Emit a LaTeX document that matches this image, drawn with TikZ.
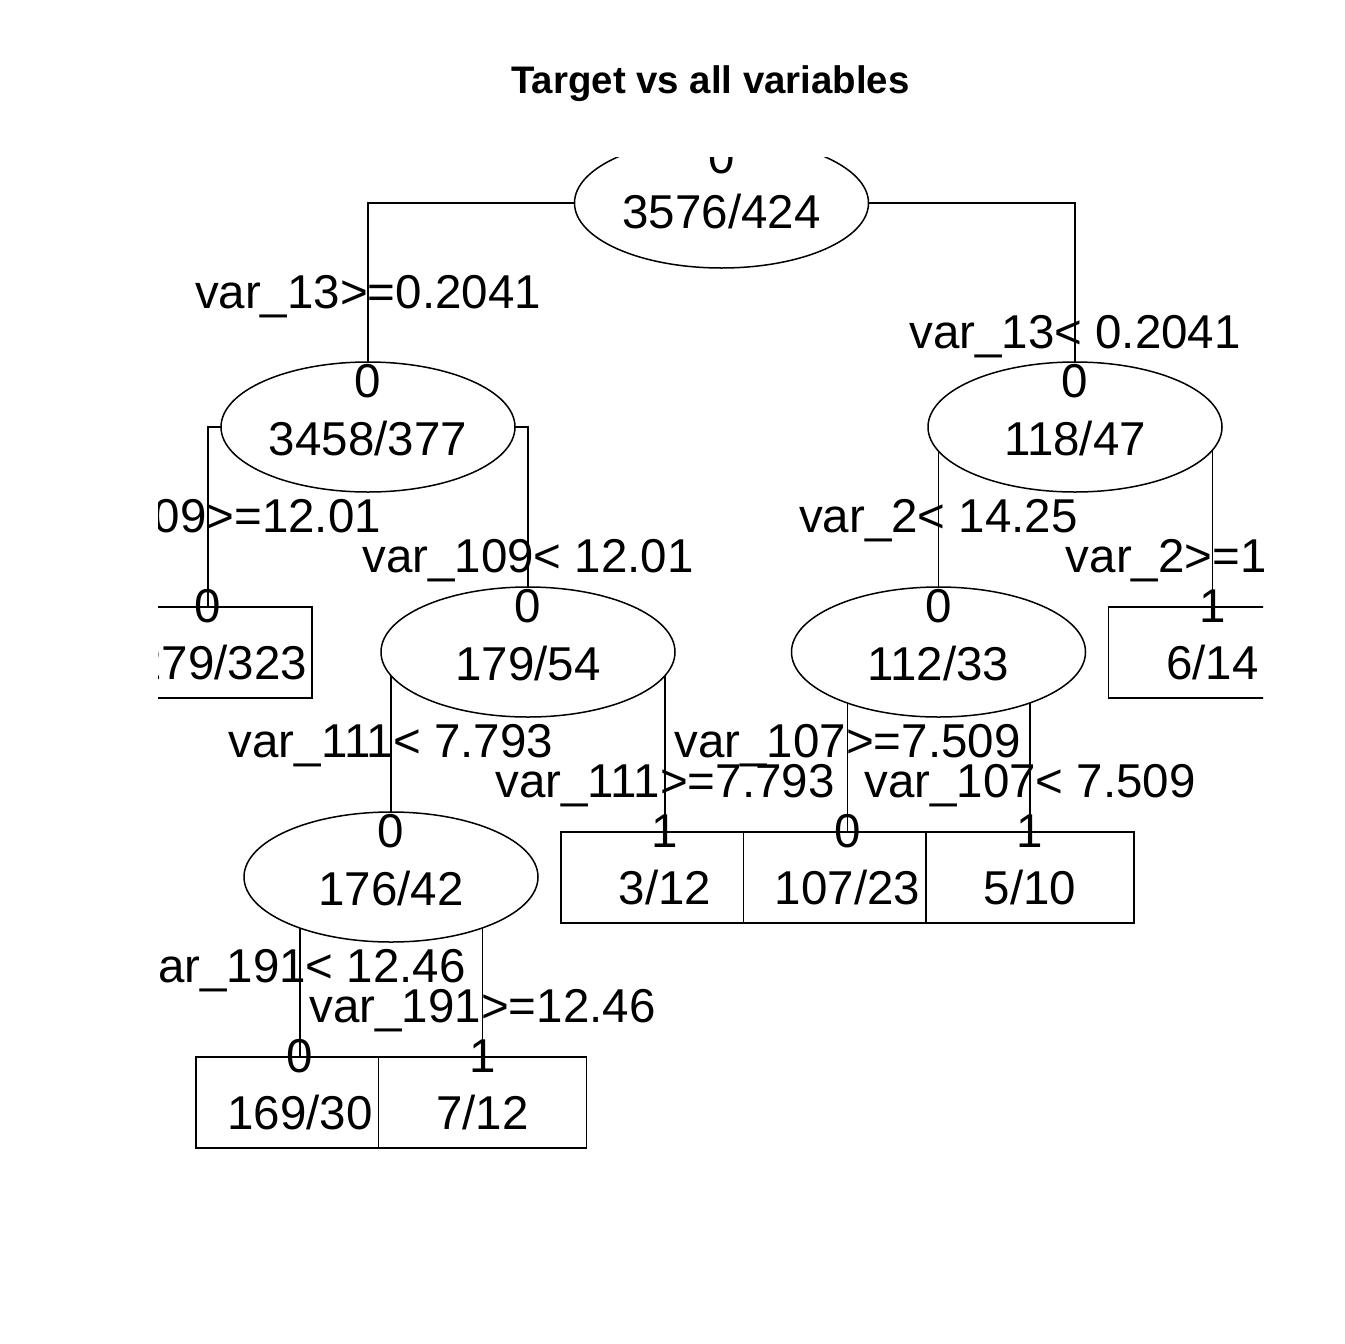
\documentclass[tikz,border=0pt]{standalone}
\usepackage{fontspec}
\setmainfont{Liberation Sans}
\usetikzlibrary{shapes.geometric,backgrounds}
\begin{document}
\begin{tikzpicture}[x=1pt,y=-1pt,
  inode/.style={ellipse,draw,fill=white,line width=1.5pt,minimum width=294pt,minimum height=130pt,inner sep=0pt,outer sep=0pt},
  leaf/.style={rectangle,draw,fill=white,line width=1.5pt,minimum width=208pt,minimum height=91pt,inner sep=0pt,outer sep=0pt},
  txt/.style={anchor=base,inner sep=0pt,font=\fontsize{47.5}{57}\selectfont},
  ttl/.style={anchor=base,inner sep=0pt,font=\bfseries\fontsize{38.4}{46}\selectfont},
  edge/.style={line width=1.5pt}]
\useasboundingbox (0,0) rectangle (1344,1344);
\node[ttl] (title) at (710.5,93) {Target vs all variables};
\begin{scope}
\clip (158,157) rectangle (1263,1148);
% internal nodes
\node[inode] (root) at (721.5,203) {};
\node[inode] (n2) at (368,427) {};
\node[inode] (n3) at (1075,427) {};
\node[inode] (n179) at (528,652) {};
\node[inode] (n112) at (938.5,652) {};
\node[inode] (n176) at (391,877) {};
% leaves
\node[leaf] (l3279) at (208,652.5) {};
\node[leaf] (l614) at (1212.5,652.5) {};
\node[leaf] (l312) at (665,877.5) {};
\node[leaf] (l10723) at (847.5,877.5) {};
\node[leaf] (l510) at (1030,877.5) {};
\node[leaf] (l16930) at (300,1102.5) {};
\node[leaf] (l712) at (482.5,1102.5) {};
% node texts
\node[txt] (root-c) at (721.5,173) {0};
\node[txt] (root-n) at (721.5,228) {3576/424};
\node[txt] (n2-c) at (368,397) {0};
\node[txt] (n2-n) at (368,455) {3458/377};
\node[txt] (n3-c) at (1075,397) {0};
\node[txt] (n3-n) at (1075,455) {118/47};
\node[txt] (n179-c) at (528,622) {0};
\node[txt] (n179-n) at (528,680) {179/54};
\node[txt] (n112-c) at (938.5,622) {0};
\node[txt] (n112-n) at (938.5,680) {112/33};
\node[txt] (n176-c) at (391,847) {0};
\node[txt] (n176-n) at (391,905) {176/42};
\node[txt] (l3279-c) at (208,622) {0};
\node[txt] (l3279-n) at (208,679) {3279/323};
\node[txt] (l614-c) at (1212.5,622) {1};
\node[txt] (l614-n) at (1212.5,679) {6/14};
\node[txt] (l312-c) at (665,847) {1};
\node[txt] (l312-n) at (665,904) {3/12};
\node[txt] (l10723-c) at (847.5,847) {0};
\node[txt] (l10723-n) at (847.5,904) {107/23};
\node[txt] (l510-c) at (1030,847) {1};
\node[txt] (l510-n) at (1030,904) {5/10};
\node[txt] (l16930-c) at (300,1072) {0};
\node[txt] (l16930-n) at (300,1129) {169/30};
\node[txt] (l712-c) at (482.5,1072) {1};
\node[txt] (l712-n) at (482.5,1129) {7/12};
% split labels
\node[txt] (s1) at (368,308) {var\_13>=0.2041};
\node[txt] (s2) at (1075,348) {var\_13< 0.2041};
\node[txt] (s3) at (208,532) {var\_109>=12.01};
\node[txt] (s4) at (528,572) {var\_109< 12.01};
\node[txt] (s5) at (938.5,532) {var\_2< 14.25};
\node[txt] (s6) at (1212.5,572) {var\_2>=14.25};
\node[txt] (s7) at (391,757) {var\_111< 7.793};
\node[txt] (s8) at (665,797) {var\_111>=7.793};
\node[txt] (s9) at (847.5,757) {var\_107>=7.509};
\node[txt] (s10) at (1030,797) {var\_107< 7.509};
\node[txt] (s11) at (300,982) {var\_191< 12.46};
\node[txt] (s12) at (482.5,1022) {var\_191>=12.46};
\end{scope}
\begin{pgfonlayer}{background}
\fill[white] (0,0) rectangle (1344,1344);
\begin{scope}
\clip (158,157) rectangle (1263,1148);
\draw[edge] (root.center) -| (n2.north);
\draw[edge] (root.center) -| (n3.north);
\draw[edge] (n2.center) -| (l3279.north);
\draw[edge] (n2.center) -| (n179.north);
\draw[edge] (n3.center) -| (n112.north);
\draw[edge] (n3.center) -| (l614.north);
\draw[edge] (n179.center) -| (n176.north);
\draw[edge] (n179.center) -| (l312.north);
\draw[edge] (n112.center) -| (l10723.north);
\draw[edge] (n112.center) -| (l510.north);
\draw[edge] (n176.center) -| (l16930.north);
\draw[edge] (n176.center) -| (l712.north);
\end{scope}
\end{pgfonlayer}
\end{tikzpicture}
\end{document}
